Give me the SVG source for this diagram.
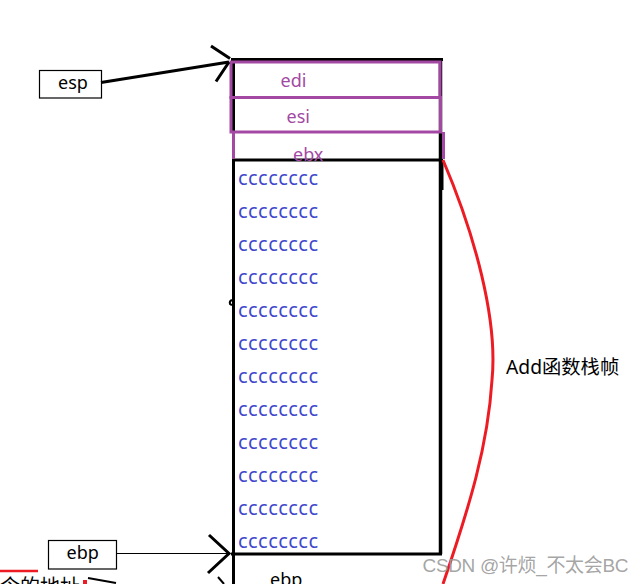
<svg xmlns="http://www.w3.org/2000/svg" width="643" height="584" viewBox="0 0 643 584">
<style>
  .blk{stroke:#000;fill:none;stroke-linecap:butt}
  .pur{stroke:#a349a4;fill:none;stroke-width:3}
  .reg{font-family:"Noto Sans","Noto Sans CJK SC",sans-serif;font-size:18px;fill:#a349a4}
  .cc{font-family:"Noto Sans","Noto Sans CJK SC",sans-serif;font-size:20px;fill:#3f48cc}
  .lbl{font-family:"Noto Sans","Noto Sans CJK SC",sans-serif;font-size:18px;fill:#000}
  .box{fill:#fff;stroke:#000;stroke-width:1.2}
</style>
<rect width="643" height="584" fill="#fff"/>

<g id="stack">
  <path class="blk" stroke-width="3" d="M231,59.5 H443"/>
  <path class="blk" stroke-width="3" d="M233.5,59 V584"/>
  <path class="blk" stroke-width="3.5" d="M440.5,59 V554"/>
  <path class="blk" stroke-width="2" d="M442.5,160 V190"/>
  <path class="blk" stroke-width="3" d="M233,160 H443"/>
  <path class="blk" stroke-width="3" d="M231,554 H442"/>
  <path class="blk" stroke-width="2" d="M232,300 q-3,1 -2,4 q2,2 4,-1"/>
</g>

<g id="edi">
  <rect class="pur" x="231" y="62" width="209" height="35.5"/>
  <text class="reg" x="280.5" y="87">edi</text>
</g>
<g id="esi">
  <rect class="pur" x="231" y="97.5" width="209.5" height="34.5"/>
  <text class="reg" x="286.5" y="122.5">esi</text>
</g>
<g id="ebx">
  <path class="pur" d="M233.5,132 V159 M443.5,132 V159"/>
  <text class="reg" x="293" y="161">ebx</text>
</g>

<g id="locals">
  <text class="cc" x="238" y="185" textLength="80">cccccccc</text>
  <text class="cc" x="238" y="218" textLength="80">cccccccc</text>
  <text class="cc" x="238" y="251" textLength="80">cccccccc</text>
  <text class="cc" x="238" y="284" textLength="80">cccccccc</text>
  <text class="cc" x="238" y="317" textLength="80">cccccccc</text>
  <text class="cc" x="238" y="350" textLength="80">cccccccc</text>
  <text class="cc" x="238" y="383" textLength="80">cccccccc</text>
  <text class="cc" x="238" y="416" textLength="80">cccccccc</text>
  <text class="cc" x="238" y="449" textLength="80">cccccccc</text>
  <text class="cc" x="238" y="482" textLength="80">cccccccc</text>
  <text class="cc" x="238" y="515" textLength="80">cccccccc</text>
  <text class="cc" x="238" y="548" textLength="80">cccccccc</text>
</g>

<g id="ebp-slot">
  <text class="lbl" x="270" y="586">ebp</text>
</g>

<g id="esp">
  <rect class="box" x="39.5" y="70.5" width="62" height="27.5"/>
  <text class="lbl" x="58" y="89">esp</text>
</g>

<g id="ebp">
  <rect class="box" x="48.5" y="540.5" width="68" height="28.5"/>
  <text class="lbl" x="66.5" y="559">ebp</text>
</g>

<g id="frame-label">
  <text class="lbl" x="506" y="374" style="font-size:19.3px">Add函数栈帧</text>
</g>

<g id="offscreen-note">
  <text class="lbl" x="-20" y="594" style="font-size:20px">指令的地址</text>
  <path d="M0,571 H38" stroke="#ed1c24" stroke-width="2.5"/>
  <rect x="83" y="580" width="4" height="4" fill="#ed1c24"/>
</g>

<g id="connectors">
  <path class="blk" stroke-width="3" d="M101,82.5 L229,62"/>
  <path class="blk" stroke-width="3" d="M211,46 L230,58.5 M216,81.5 L229,62"/>
  <path class="blk" stroke-width="1.2" d="M116.5,553.5 H229"/>
  <path class="blk" stroke-width="3" d="M209,535 L229,553.5 L208,573"/>
  <path class="blk" stroke-width="2" d="M88,578 L116,583"/>
  <path class="blk" stroke-width="2" d="M218,577 L224,584"/>
  <path d="M443,160 C475,235 498,320 492,380 C488,445 470,505 443,584" fill="none" stroke="#ed1c24" stroke-width="3"/>
</g>

<g id="watermark">
  <text x="422.5" y="572" font-family="'Liberation Sans','Noto Sans CJK SC',sans-serif" font-size="19" fill="#9a9a9a" fill-opacity="0.9" textLength="206">CSDN @许烦_不太会BC</text>
</g>
</svg>
